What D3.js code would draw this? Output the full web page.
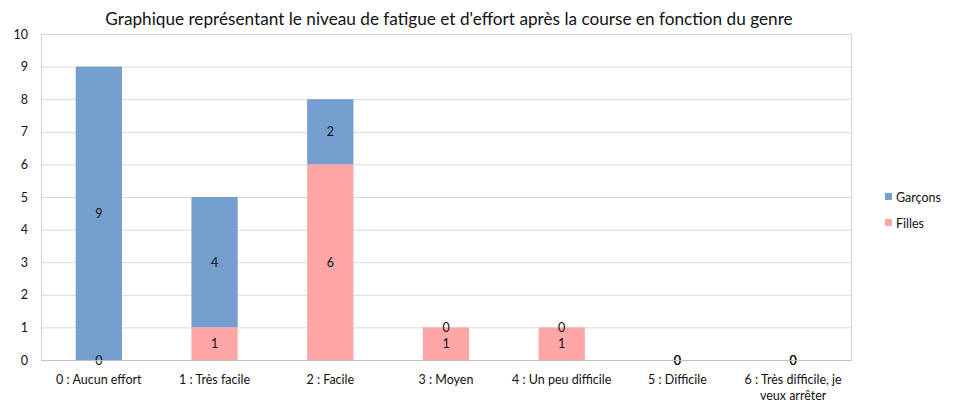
<!DOCTYPE html>
<html><head><meta charset="utf-8">
<script src="https://cdn.jsdelivr.net/npm/d3@7"></script>
<style>body{margin:0;background:#fff;}svg{display:block;font-family:Lato,"Open Sans",sans-serif;}</style>
</head><body>
<script>
const categories = ["0 : Aucun effort","1 : Très facile","2 : Facile","3 : Moyen","4 : Un peu difficile","5 : Difficile","6 : Très difficile, je veux arrêter"];
const filles = [0,1,6,1,1,0,0];
const garcons = [9,4,2,0,0,0,0];
const seriesNames = ["Filles","Garçons"];
const yTicks = [0,1,2,3,4,5,6,7,8,9,10];
const title = "Graphique représentant le niveau de fatigue et d'effort après la course en fonction du genre";

const W=956,H=403;
const m={l:41,r:105,t:34,b:43};
const colors={"Filles":"#ffa6a6","Garçons":"#759fce"};
const svg=d3.select("body").append("svg").attr("width",W).attr("height",H);
const x=d3.scaleBand().domain(categories).range([m.l,W-m.r]).paddingInner(0.6).paddingOuter(0.3);
const y=d3.scaleLinear().domain([0,10]).range([H-m.b,m.t]);

svg.append("text").attr("x",449).attr("y",25).attr("text-anchor","middle").attr("font-size",17.2).attr("fill","#111").text(title);

svg.append("g").selectAll("line").data(yTicks).join("line")
 .attr("x1",m.l).attr("x2",W-m.r).attr("y1",d=>y(d)+0.5).attr("y2",d=>y(d)+0.5)
 .attr("stroke","#d9d9d9");
svg.append("rect").attr("x",m.l+0.5).attr("y",m.t+0.5).attr("width",W-m.r-m.l).attr("height",H-m.b-m.t)
 .attr("fill","none").attr("stroke","#d4d4d4");

const data=categories.map((c,i)=>({c,Filles:filles[i],"Garçons":garcons[i]}));
const stack=d3.stack().keys(seriesNames)(data);
const g=svg.append("g");
stack.forEach(s=>{
 g.selectAll(null).data(s).join("rect")
  .attr("x",d=>x(d.data.c)).attr("width",x.bandwidth())
  .attr("y",d=>y(d[1])).attr("height",d=>y(d[0])-y(d[1]))
  .attr("fill",colors[s.key]);
});
stack.forEach(s=>{
 g.selectAll(null).data(s).join("text")
  .attr("x",d=>x(d.data.c)+x.bandwidth()/2).attr("y",d=>(y(d[0])+y(d[1]))/2+4.5)
  .attr("text-anchor","middle").attr("font-size",12.5).attr("fill","#111")
  .text(d=>d[1]-d[0]);
});
svg.append("line").attr("x1",m.l).attr("x2",W-m.r).attr("y1",y(0)+0.5).attr("y2",y(0)+0.5).attr("stroke","#bfbfbf");

const yAxis=d3.axisLeft(y).tickValues(yTicks).tickSize(0).tickPadding(13);
const ya=svg.append("g").attr("transform",`translate(${m.l},0)`).call(yAxis);
ya.select(".domain").remove();
ya.selectAll("text").attr("font-size",12.5).attr("fill","#111").attr("font-family","Lato");

const xl=svg.append("g");
categories.forEach(c=>{
 const cx=x(c)+x.bandwidth()/2;
 let lines=[c];
 if(c.length>22){lines=["6 : Très difficile, je","veux arrêter"];}
 lines.forEach((t,j)=>xl.append("text").attr("x",cx).attr("y",384+j*16).attr("text-anchor","middle")
  .attr("font-size",12.5).attr("fill","#111").text(t));
});

const leg=[["Garçons",197],["Filles",223]];
leg.forEach(([n,yy])=>{
 svg.append("rect").attr("x",885).attr("y",yy-4).attr("width",7).attr("height",7).attr("fill",colors[n]);
 svg.append("text").attr("x",896).attr("y",yy+4.5).attr("font-size",12.5).attr("fill","#111").text(n);
});
</script>
</body></html>
